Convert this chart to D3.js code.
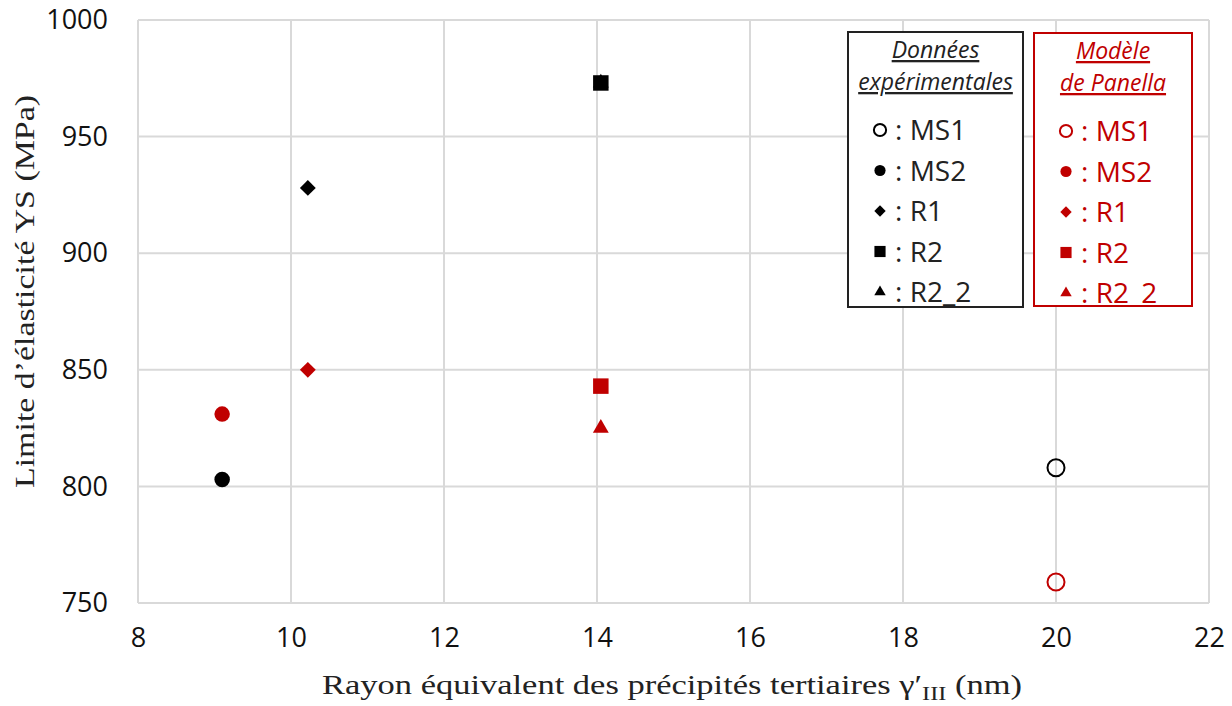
<!DOCTYPE html>
<html>
<head>
<meta charset="utf-8">
<script src="https://cdn.jsdelivr.net/npm/d3@7"></script>
<style>
	body { margin: 0; background: #fff; }
	.tick text { font-family: "Open Sans", "Liberation Sans", sans-serif; font-size: 27px; fill: #111; }
	.title { font-family: "Liberation Serif", "DejaVu Serif", serif; font-size: 27px; fill: #222; }
	.leg { font-family: "Open Sans", "Liberation Sans", sans-serif; }
</style>
</head>
<body>
<svg id="chart" width="1232" height="706"></svg>
<script>
var samples = ["MS1", "MS2", "R1", "R2", "R2_2"];
var shapes = ["open", "circle", "diamond", "square", "triangle"];
var radius = [20, 9.1, 10.22, 14.05, 14.05];
var ysExp = [808, 803, 928, 973, 973];
var ysModel = [759, 831, 850, 843, 825];
var xTicks = [8, 10, 12, 14, 16, 18, 20, 22];
var yTicks = [750, 800, 850, 900, 950, 1000];

var black = "#000", red = "#c00000";

var svg = d3.select("#chart");
var x = d3.scaleLinear().domain([8, 22]).range([138, 1209]);
var y = d3.scaleLinear().domain([750, 1000]).range([603, 20]);

// grid
svg.append("g").selectAll("line.v")
	.data(xTicks)
	.enter().append("line")
		.attr("x1", function(d) { return x(d); })
		.attr("x2", function(d) { return x(d); })
		.attr("y1", y(1000)).attr("y2", y(750))
		.attr("stroke", "#d9d9d9").attr("stroke-width", 2);
svg.append("g").selectAll("line.h")
	.data(yTicks)
	.enter().append("line")
		.attr("x1", x(8)).attr("x2", x(22))
		.attr("y1", function(d) { return y(d); })
		.attr("y2", function(d) { return y(d); })
		.attr("stroke", "#d9d9d9").attr("stroke-width", 2);

var xAxis = svg.append("g")
	.attr("transform", "translate(0," + y(750) + ")")
	.call(d3.axisBottom(x).tickValues(xTicks).tickSize(0).tickPadding(25));
xAxis.select(".domain").remove();

var yAxis = svg.append("g")
	.attr("transform", "translate(" + x(8) + ",0)")
	.call(d3.axisLeft(y).tickValues(yTicks).tickFormat(d3.format("d")).tickSize(0).tickPadding(30));
yAxis.select(".domain").remove();

svg.append("text").attr("class", "title")
	.attr("x", 322).attr("y", 694)
	.attr("textLength", 700).attr("lengthAdjust", "spacingAndGlyphs")
	.html("Rayon équivalent des précipités tertiaires γ′<tspan dy='6' font-size='19'>III</tspan><tspan dy='-6'> (nm)</tspan>");

svg.append("text").attr("class", "title")
	.attr("transform", "translate(34,488) rotate(-90)")
	.attr("textLength", 393).attr("lengthAdjust", "spacingAndGlyphs")
	.text("Limite d’élasticité YS (MPa)");

function marker(g, shape, color, s) {
	if (shape === "open") {
		g.append("circle").attr("r", s * 0.85).attr("fill", "none")
			.attr("stroke", color).attr("stroke-width", 2);
	} else {
		var t = { circle: d3.symbolCircle, diamond: d3.symbolDiamond2, square: d3.symbolSquare, triangle: d3.symbolTriangle2 }[shape];
		var area = { circle: Math.PI * s * s * 0.6, diamond: s * s * 1.6, square: s * s * 2.4, triangle: s * s * 1.8 }[shape];
		g.append("path").attr("d", d3.symbol().type(t).size(area)).attr("fill", color);
	}
}

// points, drawn back to front so R2 square covers R2_2 triangle
var order = [4, 0, 1, 2, 3];
[[ysExp, black], [ysModel, red]].forEach(function(set) {
	order.forEach(function(i) {
		var g = svg.append("g")
			.attr("transform", "translate(" + x(radius[i]) + "," + y(set[0][i]) + ")");
		marker(g, shapes[i], set[1], 10);
	});
});

// legends
function legend(x0, y0, w, h, color, title) {
	var ink = color === black ? "#222" : color;
	var g = svg.append("g").attr("class", "leg");
	g.append("rect").attr("x", x0).attr("y", y0).attr("width", w).attr("height", h)
		.attr("fill", "#fff").attr("stroke", ink).attr("stroke-width", 2);
	title.forEach(function(t, k) {
		g.append("text")
			.attr("x", x0 + w / 2).attr("y", y0 + 26 + k * 32)
			.attr("text-anchor", "middle")
			.attr("font-size", 23).attr("font-style", "italic")
			.attr("text-decoration", "underline")
			.attr("fill", ink)
			.text(t);
	});
	samples.forEach(function(s, i) {
		var cy = y0 + 98 + i * 40.5;
		var mg = g.append("g").attr("transform", "translate(" + (x0 + 32) + "," + cy + ")");
		marker(mg, shapes[i], color, 7.2);
		g.append("text")
			.attr("x", x0 + 47).attr("y", cy + 10)
			.attr("font-size", 28)
			.attr("fill", ink)
			.text(": " + s);
	});
}
legend(848, 32, 175, 275, black, ["Données", "expérimentales"]);
legend(1034, 33, 158, 273, red, ["Modèle", "de Panella"]);
</script>
</body>
</html>
